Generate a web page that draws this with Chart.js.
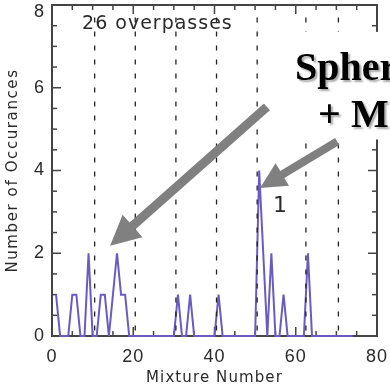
<!DOCTYPE html>
<html><head><meta charset="utf-8">
<script src="https://cdn.jsdelivr.net/npm/chart.js@4.4.1/dist/chart.umd.min.js"></script>
<style>html,body{margin:0;padding:0;background:#fff;}#wrap{width:390px;height:388px;position:relative;}</style>
</head><body><div id="wrap"><canvas id="c" width="390" height="388"></canvas></div>
<script>
// ---- data ----
const mixtureNumbers = [1,2,3,4,5,6,7,8,9,10,11,12,13,14,15,16,17,18,19,20,21,22,23,24,25,26,27,28,29,30,31,32,33,34,35,36,37,38,39,40,41,42,43,44,45,46,47,48,49,50,51,52,53,54,55,56,57,58,59,60,61,62,63,64,65,66,67,68,69,70,71,72,73,74];
const occurrences    = [1,0,0,0,1,1,0,0,2,0, 0, 1, 1, 0, 1, 2, 1, 1, 0, 0, 0, 0, 0, 0, 0, 0, 0, 0, 0, 0, 1, 0, 0, 1, 0, 0, 0, 0, 0, 0, 1, 0, 0, 0, 0, 0, 0, 0, 0, 0, 4, 2, 0, 2, 0, 0, 1, 0, 0, 0, 0, 0, 2, 0, 0, 0, 0, 0, 0, 0, 0, 0, 0, 0];
const boundaryMixtures = [10.5, 20.5, 30.5, 40.5, 50.5, 62.5, 70.5];
const boundaryTop = 7.7;
const xTickLabels = [0, 20, 40, 60, 80];
const yTickLabels = [0, 2, 4, 6, 8];
const xTitle = 'Mixture Number';
const yTitle = 'Number of Occurances';
const noteText = '26 overpasses';
const peakLabel = '1';
const calloutLines = ['Spherical', '+ Mode'];

const lineColor = '#6a5bc2';
const textColor = '#2a2a2a';

const datasets = [{
  data: mixtureNumbers.map((m, i) => ({x: m, y: occurrences[i]})),
  borderColor: lineColor, borderWidth: 2, pointRadius: 0, tension: 0, order: 2, clip: false
}];
boundaryMixtures.forEach(b => datasets.push({
  data: [{x: b, y: boundaryTop}, {x: b, y: 0}],
  borderColor: '#222', borderWidth: 1.3, borderDash: [5, 9], pointRadius: 0, order: 1
}));

function arrow(ctx, x0, y0, x1, y1, w, hl, hw) {
  const dx = x1 - x0, dy = y1 - y0, L = Math.hypot(dx, dy);
  const ux = dx / L, uy = dy / L, px = -uy, py = ux;
  const bx = x1 - ux * hl, by = y1 - uy * hl;
  ctx.beginPath();
  ctx.moveTo(x0 + px * w / 2, y0 + py * w / 2);
  ctx.lineTo(bx + px * w / 2, by + py * w / 2);
  ctx.lineTo(bx + px * hw, by + py * hw);
  ctx.lineTo(x1, y1);
  ctx.lineTo(bx - px * hw, by - py * hw);
  ctx.lineTo(bx - px * w / 2, by - py * w / 2);
  ctx.lineTo(x0 - px * w / 2, y0 - py * w / 2);
  ctx.closePath();
  ctx.fill();
}

// give each axis title its own letter spacing
function spacedTitle(spacing) {
  return s => {
    if (!s._spacedTitle) {
      const orig = s.drawTitle;
      s.drawTitle = function () {
        this.ctx.save();
        this.ctx.letterSpacing = spacing;
        orig.call(this);
        this.ctx.restore();
      };
      s._spacedTitle = true;
    }
  };
}

const decor = {
  id: 'decor',
  beforeDraw(chart) { chart.ctx.letterSpacing = '1px'; },
  beforeDatasetsDraw(chart) {
    const {ctx, chartArea: a, scales: {x, y}} = chart;
    ctx.save();
    ctx.strokeStyle = '#444';
    ctx.lineWidth = 2;
    ctx.strokeRect(a.left, a.top, a.right - a.left, a.bottom - a.top);
    ctx.lineWidth = 1.5;
    const seg = (x0, y0, x1, y1) => { ctx.beginPath(); ctx.moveTo(x0, y0); ctx.lineTo(x1, y1); ctx.stroke(); };
    for (let v = 0; v <= 80; v += 5) {
      const p = x.getPixelForValue(v), L = v % 20 === 0 ? 9 : 5;
      seg(p, a.bottom, p, a.bottom - L); seg(p, a.top, p, a.top + L);
    }
    for (let v = 0; v <= 8; v += 0.5) {
      const p = y.getPixelForValue(v), L = v % 2 === 0 ? 9 : 5;
      seg(a.left, p, a.left + L, p); seg(a.right, p, a.right - L, p);
    }
    ctx.restore();
  },
  afterDatasetsDraw(chart) {
    const {ctx, scales: {x, y}} = chart;
    ctx.save();
    ctx.fillStyle = textColor;
    ctx.textBaseline = 'alphabetic';
    ctx.textAlign = 'left';
    ctx.letterSpacing = '1px';
    ctx.font = '19px "DejaVu Sans"';
    ctx.fillText(noteText, x.getPixelForValue(7.4), y.getPixelForValue(7.42));
    ctx.font = '22px "DejaVu Sans"';
    ctx.fillText(peakLabel, x.getPixelForValue(54.4), y.getPixelForValue(3.0));
    // white callout box
    const bx0 = x.getPixelForValue(58.4), by0 = y.getPixelForValue(7.35), by1 = y.getPixelForValue(4.75);
    ctx.fillStyle = '#fff';
    ctx.fillRect(bx0, by0, chart.width - bx0, by1 - by0);
    ctx.letterSpacing = '0px';
    ctx.font = 'bold 40px "Liberation Serif"';
    ctx.fillStyle = '#000';
    ctx.shadowColor = 'rgba(0,0,0,0.35)';
    ctx.shadowOffsetX = 2; ctx.shadowOffsetY = 2; ctx.shadowBlur = 2;
    ctx.fillText(calloutLines[0], x.getPixelForValue(59.8), y.getPixelForValue(6.19));
    ctx.fillText(calloutLines[1], x.getPixelForValue(65.5), y.getPixelForValue(5.05));
    // arrows
    ctx.shadowColor = 'rgba(0,0,0,0)';
    ctx.fillStyle = '#808080';
    arrow(ctx, x.getPixelForValue(52.9), y.getPixelForValue(5.54), x.getPixelForValue(14.3), y.getPixelForValue(2.18), 9, 30, 15);
    arrow(ctx, x.getPixelForValue(70.2), y.getPixelForValue(4.70), x.getPixelForValue(51.2), y.getPixelForValue(3.58), 8, 26, 13);
    ctx.restore();
  }
};

const topValue = yTickLabels[yTickLabels.length - 1];

new Chart(document.getElementById('c'), {
  type: 'line',
  data: {datasets},
  options: {
    responsive: false, animation: false, devicePixelRatio: 1,
    layout: {padding: {top: 5, right: 13, bottom: 0, left: 0}},
    plugins: {legend: {display: false}, tooltip: {enabled: false}},
    scales: {
      x: {
        type: 'linear', min: 0, max: 80,
        afterBuildTicks: s => { s.ticks = xTickLabels.map(v => ({value: v})); },
        ticks: {color: textColor, font: {family: 'Liberation Sans', size: 18}, padding: 10, maxRotation: 0, autoSkip: false},
        grid: {display: false, drawTicks: false}, border: {display: false},
        title: {display: true, text: xTitle, color: textColor, font: {family: 'DejaVu Sans', size: 15}, padding: {top: 0, bottom: 1}},
        afterFit: s => { s.height = 52; s.paddingLeft = 0; s.paddingRight = 0; spacedTitle('1.1px')(s); }
      },
      y: {
        min: 0, max: topValue,
        afterBuildTicks: s => { s.ticks = yTickLabels.map(v => ({value: v})); },
        ticks: {
          color: textColor, padding: 7, autoSkip: false,
          // the top label sits a little below its tick, as in the original
          callback: v => v === topValue ? ['', String(v)] : String(v),
          font: c => (c.tick && c.tick.value === topValue) ? {family: 'Liberation Sans', size: 18, lineHeight: 0.8} : {family: 'Liberation Sans', size: 18}
        },
        grid: {display: false, drawTicks: false}, border: {display: false},
        title: {display: true, text: yTitle, color: textColor, font: {family: 'DejaVu Sans', size: 15}, padding: {top: 4, bottom: 0}},
        afterFit: s => { s.width = 52; s.paddingTop = 0; s.paddingBottom = 0; spacedTitle('1.6px')(s); }
      }
    }
  },
  plugins: [decor]
});
</script></body></html>
